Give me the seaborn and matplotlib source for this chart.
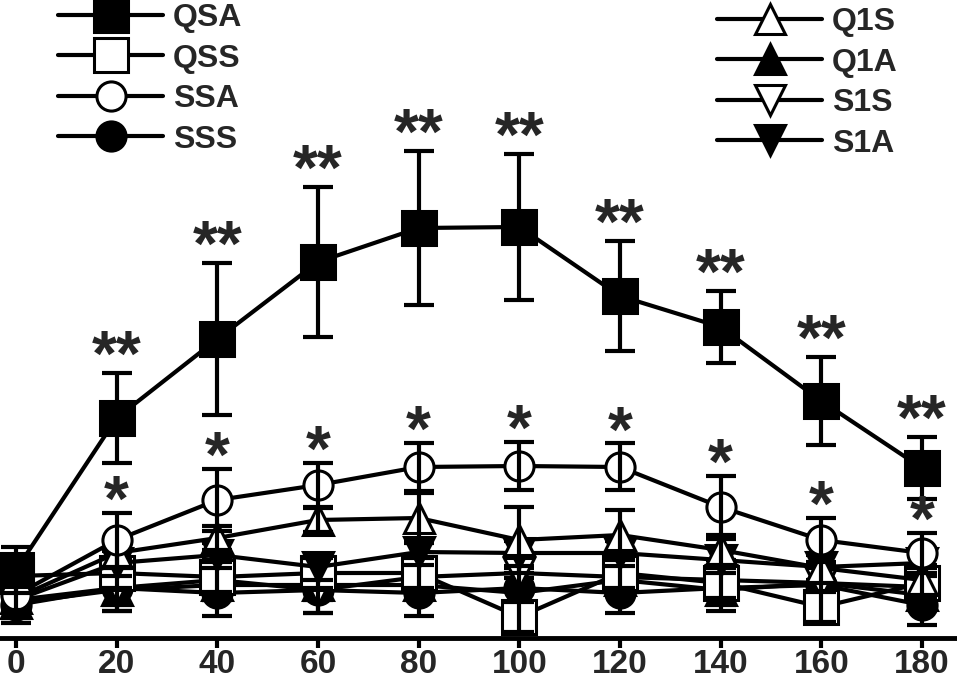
import matplotlib
matplotlib.use("Agg")
import matplotlib.pyplot as plt
import seaborn as sns

sns.set_theme(style="white")
plt.rcParams["font.family"] = ["Liberation Sans", "DejaVu Sans"]
plt.rcParams["font.weight"] = "bold"

# Time points (x axis)
times = [0, 20, 40, 60, 80, 100, 120, 140, 160, 180]

# Group means (arbitrary units) and SEM
qsa = [13.6, 44.0, 59.8, 75.2, 82.0, 82.2, 68.4, 62.2, 47.4, 34.0]
qsa_sem = [4.6, 9.0, 15.2, 15.0, 15.4, 14.6, 11.0, 7.2, 8.8, 6.2]
qss = [12.4, 13.0, 12.2, 13.0, 13.0, 4.2, 13.0, 11.0, 6.2, 11.0]
qss_sem = [3.0, 3.0, 3.0, 3.0, 3.0, 3.0, 3.0, 3.0, 3.0, 3.0]
ssa = [8.6, 19.6, 27.6, 30.6, 34.2, 34.4, 34.2, 26.2, 19.6, 17.0]
ssa_sem = [3.0, 5.4, 6.2, 4.4, 4.9, 4.8, 4.7, 6.3, 4.4, 4.0]
sss = [6.6, 10.0, 9.0, 9.6, 9.0, 10.0, 9.0, 10.0, 10.6, 6.6]
sss_sem = [3.5, 4.5, 4.5, 4.5, 4.5, 4.0, 4.0, 4.5, 4.0, 4.0]
q1s = [8.0, 17.0, 20.0, 23.6, 24.0, 19.6, 20.6, 17.6, 14.0, 11.6]
q1s_sem = [3.0, 3.0, 2.4, 2.4, 5.0, 6.6, 5.0, 3.0, 3.0, 3.0]
q1a = [7.0, 9.6, 10.6, 10.6, 10.6, 9.0, 11.6, 9.6, 11.0, 8.6]
q1a_sem = [3.0, 3.0, 3.0, 3.0, 3.0, 3.0, 3.0, 3.0, 3.0, 3.0]
s1s = [7.6, 10.0, 11.6, 9.6, 12.2, 13.0, 12.2, 11.6, 11.0, 10.2]
s1s_sem = [3.5, 4.6, 4.0, 4.6, 4.0, 3.5, 3.5, 4.0, 4.0, 4.0]
s1a = [7.6, 15.0, 16.6, 14.2, 17.2, 17.0, 17.0, 15.6, 14.2, 15.0]
s1a_sem = [2.5, 2.5, 2.5, 2.5, 2.5, 2.5, 2.5, 2.5, 2.5, 2.5]

# Significance marks (from 20 min onward)
qsa_sig = ["", "**", "**", "**", "**", "**", "**", "**", "**", "**"]
ssa_sig = ["", "*", "*", "*", "*", "*", "*", "*", "*", "*"]

# name, means, sem, marker, fill, marker size
series = [
    ("QSA", qsa, qsa_sem, "s", "black", 25),
    ("QSS", qss, qss_sem, "s", "white", 25),
    ("SSA", ssa, ssa_sem, "o", "white", 21),
    ("SSS", sss, sss_sem, "o", "black", 21),
    ("Q1S", q1s, q1s_sem, "^", "white", 21),
    ("Q1A", q1a, q1a_sem, "^", "black", 21),
    ("S1S", s1s, s1s_sem, "v", "white", 21),
    ("S1A", s1a, s1a_sem, "v", "black", 21),
]

fig = plt.figure(figsize=(9.57, 6.85), dpi=100)
ax = fig.add_axes([0.0, 47 / 685, 1.0, 638 / 685])

handles = {}
draw_order = ["SSS", "Q1A", "S1S", "QSS", "S1A", "Q1S", "SSA", "QSA"]
lookup = {s[0]: s for s in series}
for i, name in enumerate(draw_order):
    _, vals, sem, mk, fill, ms = lookup[name]
    sns.lineplot(x=times, y=vals, ax=ax, color="black", linewidth=3,
                 marker=mk, markersize=ms, markerfacecolor=fill,
                 markeredgecolor="black", markeredgewidth=2.2,
                 zorder=3 + i, legend=False)
    handles[name] = ax.lines[-1]
    ax.errorbar(times, vals, yerr=sem, fmt="none", ecolor="black",
                elinewidth=3, capsize=11, capthick=3, zorder=3.5 + i)

# Significance stars
for x, v, e, s in zip(times, qsa, qsa_sem, qsa_sig):
    if s:
        ax.text(x, v + e + 2.8, s, ha="center", va="center",
                fontsize=46, fontweight="bold", zorder=20)
for x, v, e, s in zip(times, ssa, ssa_sem, ssa_sig):
    if s:
        ax.text(x, v + e + 1.8, s, ha="center", va="center",
                fontsize=46, fontweight="bold", zorder=20)

ax.set_xlim(-3.18, 186.96)
ax.set_ylim(0, 127.6)
ax.set_xticks(times)
ax.set_xticklabels([str(t) for t in times])
ax.set_yticks([])
for side in ["left", "top", "right"]:
    ax.spines[side].set_visible(False)
ax.spines["bottom"].set_linewidth(3.5)
ax.spines["bottom"].set_color("black")
ax.tick_params(axis="x", direction="out", length=7, width=3, color="black",
               labelsize=24, pad=1, bottom=True)
for lab in ax.get_xticklabels():
    lab.set_fontweight("bold")

leg_kw = dict(frameon=False, fontsize=23, handlelength=3.3, handletextpad=0.3,
              labelspacing=0.33, borderaxespad=0, borderpad=0)
left_names = ["QSA", "QSS", "SSA", "SSS"]
right_names = ["Q1S", "Q1A", "S1S", "S1A"]
leg1 = ax.legend([handles[n] for n in left_names], left_names,
                 loc="upper left", bbox_to_anchor=(58 / 957, 1 - 3 / 638), **leg_kw)
for t in leg1.get_texts():
    t.set_fontweight("bold")
ax.add_artist(leg1)
leg2 = ax.legend([handles[n] for n in right_names], right_names,
                 loc="upper left", bbox_to_anchor=(717 / 957, 1 - 7 / 638), **leg_kw)
for t in leg2.get_texts():
    t.set_fontweight("bold")

fig.savefig("out.png", dpi=100, facecolor="white")
